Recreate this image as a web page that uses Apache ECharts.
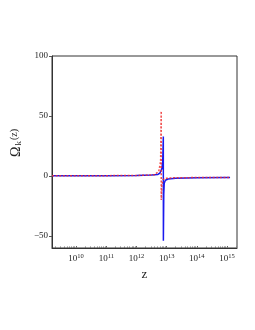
<!DOCTYPE html>
<html><head><meta charset="utf-8">
<script src="https://cdn.jsdelivr.net/npm/echarts@6/dist/echarts.min.js"></script>
<style>html,body{margin:0;padding:0;background:#fff}#c{width:255px;height:330px}</style>
</head><body><div id="c"></div>
<script>
// Blue solid curve: redshift z and Omega_k(z)
const blueZ = [1.6e9, 1e10, 1e11, 1e12, 3.16e12, 5.01e12, 6.03e12, 6.92e12, 7.41e12, 7.76e12, 7.8e12, 7.94e12, 8.04e12, 8.32e12, 9.12e12, 1.12e13, 2.0e13, 1e14, 1e15, 1.26e15];
const blueOmega = [0.2, 0.2, 0.3, 0.4, 0.8, 1.2, 2.5, 6, 12, 33, -54, -54, -15, -6, -3.5, -2.5, -1.8, -1.4, -1.2, -1.2];
// Red dotted curve
const redZ = [1.6e9, 1e10, 1e11, 1e12, 3.98e12, 5.5e12, 6.31e12, 6.61e12, 6.63e12, 6.92e12, 7.59e12, 8.91e12, 1.58e13, 1e14, 1.26e15];
const redOmega = [0.2, 0.2, 0.3, 0.4, 1, 4, 12, 54, -20, -8, -3, -2, -1.5, -1.3, -1.2];
// Axis ticks
const yTicks = [-50, 0, 50, 100];
const xMinorTicks = [];
for (let e = 9; e <= 15; e++) for (let m = 1; m <= 9; m++) xMinorTicks.push(m * Math.pow(10, e));

const zip = (a, b) => a.map((v, i) => [v, b[i]]);
const serif = 'Liberation Serif';
const chart = echarts.init(document.getElementById('c'), null, {renderer: 'canvas'});
const xBase = {
  type: 'log', min: 1.596e9, max: 2.14e15, logBase: 10, gridIndex: 0,
  splitLine: {show: false}
};
chart.setOption({
  animation: false,
  grid: {left: 52, right: 18, top: 56, bottom: 82, show: true, borderColor: '#333', borderWidth: 1},
  xAxis: [Object.assign({}, xBase, {
    name: 'z', nameLocation: 'middle', nameGap: 17,
    nameTextStyle: {fontFamily: serif, fontSize: 13, color: '#222'},
    axisLine: {show: true, onZero: false, lineStyle: {color: '#333'}},
    axisTick: {show: true, inside: true, length: 2, lineStyle: {color: '#555'}},
    axisLabel: {showMinLabel: false, showMaxLabel: false, margin: 5,
      fontFamily: serif, fontSize: 9, color: '#222',
      formatter: v => '10{s|' + Math.round(Math.log10(v)) + '}',
      rich: {s: {fontSize: 6.5, fontFamily: serif, color: '#222', verticalAlign: 'top', padding: [0,0,5,0]}}}
  }), Object.assign({}, xBase, {
    position: 'bottom',
    axisLine: {show: false, onZero: false},
    axisTick: {show: true, inside: true, length: 1.5, customValues: xMinorTicks, lineStyle: {color: '#777'}},
    axisLabel: {show: false}
  })],
  yAxis: {
    type: 'value', min: -60, max: 100,
    name: 'Ω{k|k}{p|(z)}', nameLocation: 'middle', nameGap: 19, nameRotate: 90,
    nameTextStyle: {fontFamily: serif, fontSize: 14, color: '#222', padding: [0, 0, 0, 18],
      rich: {k: {fontSize: 9, fontFamily: serif, verticalAlign: 'bottom', padding: [4,0,0,1], color:'#222'},
             p: {fontSize: 10, fontFamily: serif, color: '#222', padding: [0,0,4,1]}}},
    axisLine: {show: true, lineStyle: {color: '#333'}},
    axisTick: {show: true, length: 3, customValues: yTicks, lineStyle: {color: '#555'}},
    splitLine: {show: false},
    axisLabel: {customValues: yTicks, margin: 4, fontFamily: serif, fontSize: 9, color: '#222',
      formatter: v => (v < 0 ? '−' + Math.abs(v) : '' + v)}
  },
  series: [
    {type: 'line', data: zip(blueZ, blueOmega), showSymbol: false, smooth: false,
      lineStyle: {color: '#1a1aee', width: 1.5}, z: 2},
    {type: 'line', data: zip(redZ, redOmega), showSymbol: false, smooth: false,
      lineStyle: {color: '#ee3030', width: 1.5, type: [2, 1.6], opacity: 0.85}, z: 3}
  ]
});
</script></body></html>
